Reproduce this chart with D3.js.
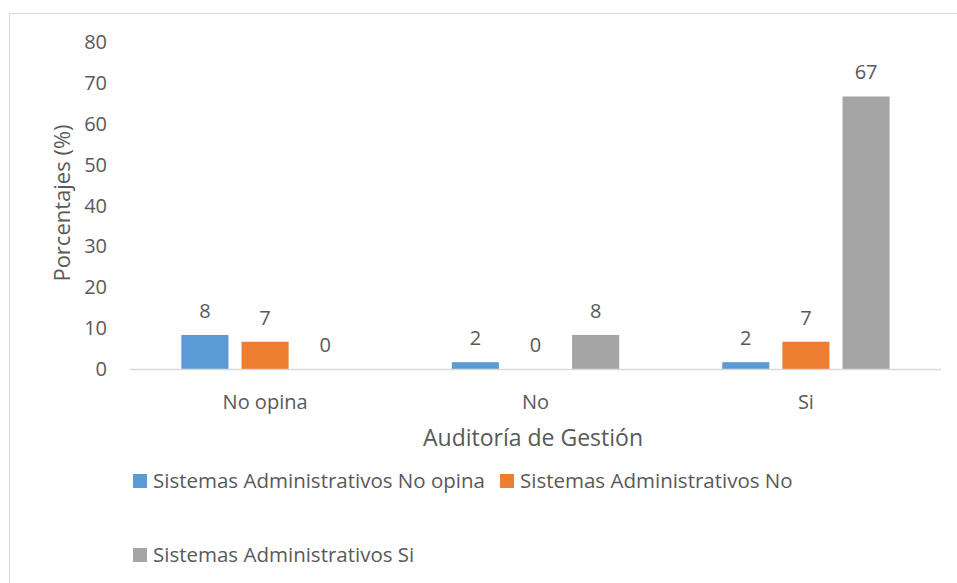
<!DOCTYPE html>
<html>
<head>
<meta charset="utf-8">
<script src="https://cdn.jsdelivr.net/npm/d3@7"></script>
<style>
  body { margin: 0; background: #fff; }
  text { font-family: "Open Sans", sans-serif; fill: #595959; }
</style>
</head>
<body>
<script>
var w = 957;
var h = 583;

// data
var categories = ["No opina", "No", "Si"];
var seriesNames = [
  "Sistemas Administrativos No opina",
  "Sistemas Administrativos No",
  "Sistemas Administrativos Si"
];
var serieNoOpina = [8.33, 1.67, 1.67];
var serieNo = [6.67, 0, 6.67];
var serieSi = [0, 8.33, 66.67];
var yTicks = [0, 10, 20, 30, 40, 50, 60, 70, 80];
var colors = ["#5b9bd5", "#ed7d31", "#a5a5a5"];

var seriesValues = [serieNoOpina, serieNo, serieSi];

var svg = d3.select("body").append("svg").attr("width", w).attr("height", h);

// outer chart border
svg.append("rect")
  .attr("x", 9.5).attr("y", 13.5)
  .attr("width", 970).attr("height", 600)
  .attr("fill", "none")
  .attr("stroke", "#d9d9d9");

var pLeft = 130, pRight = 941, pTop = 42, pBottom = 369;

var x0 = d3.scaleBand().domain(categories).range([pLeft, pRight]).paddingInner(0.381).paddingOuter(0.19);
var x1 = d3.scaleBand().domain(d3.range(seriesNames.length)).range([0, x0.bandwidth()]).paddingInner(0.217);
var y = d3.scaleLinear().domain([0, 80]).range([pBottom, pTop]);

// y tick labels (no gridlines)
svg.append("g").selectAll("text")
  .data(yTicks)
  .enter()
  .append("text")
  .attr("x", 107)
  .attr("y", d => y(d))
  .attr("dy", "0.35em")
  .attr("text-anchor", "end")
  .style("font-size", "20px")
  .text(d => d);

// bars
var groups = svg.append("g").selectAll("g")
  .data(categories)
  .enter()
  .append("g")
  .attr("transform", d => "translate(" + x0(d) + ",0)");

groups.selectAll("rect")
  .data((c, i) => seriesValues.map((s, j) => ({ s: j, v: s[i] })))
  .enter()
  .append("rect")
  .attr("x", d => x1(d.s))
  .attr("y", d => y(d.v))
  .attr("width", x1.bandwidth())
  .attr("height", d => pBottom - y(d.v))
  .attr("fill", d => colors[d.s]);

// data labels
groups.selectAll("text")
  .data((c, i) => seriesValues.map((s, j) => ({ s: j, v: s[i] })))
  .enter()
  .append("text")
  .attr("x", d => x1(d.s) + x1.bandwidth() / 2)
  .attr("y", d => y(d.v) - 17)
  .attr("text-anchor", "middle")
  .style("font-size", "20px")
  .text(d => d3.format(".0f")(d.v));

// x axis line
svg.append("line")
  .attr("x1", pLeft).attr("x2", pRight)
  .attr("y1", pBottom + 0.5).attr("y2", pBottom + 0.5)
  .attr("stroke", "#d9d9d9")
  .attr("stroke-width", 1.5);

// category labels
svg.append("g").selectAll("text")
  .data(categories)
  .enter()
  .append("text")
  .attr("x", d => x0(d) + x0.bandwidth() / 2)
  .attr("y", 402)
  .attr("dy", "0.35em")
  .attr("text-anchor", "middle")
  .style("font-size", "20px")
  .text(d => d);

// axis titles
svg.append("text")
  .attr("x", 533)
  .attr("y", 438)
  .attr("dy", "0.35em")
  .attr("text-anchor", "middle")
  .style("font-size", "23px")
  .text("Auditoría de Gestión");

svg.append("text")
  .attr("transform", "translate(62,203) rotate(-90)")
  .attr("dy", "0.35em")
  .attr("text-anchor", "middle")
  .style("font-size", "22px")
  .text("Porcentajes (%)");

// legend
var legendPos = [[133, 481], [500, 481], [133, 555]];
var legend = svg.append("g").selectAll("g")
  .data(seriesNames)
  .enter()
  .append("g")
  .attr("transform", (d, i) => "translate(" + legendPos[i][0] + "," + legendPos[i][1] + ")");

legend.append("rect")
  .attr("x", 0).attr("y", -7)
  .attr("width", 14).attr("height", 14)
  .attr("fill", (d, i) => colors[i]);

legend.append("text")
  .attr("x", 20)
  .attr("y", 0)
  .attr("dy", "0.35em")
  .style("font-size", "20.5px")
  .text(d => d);
</script>
</body>
</html>
